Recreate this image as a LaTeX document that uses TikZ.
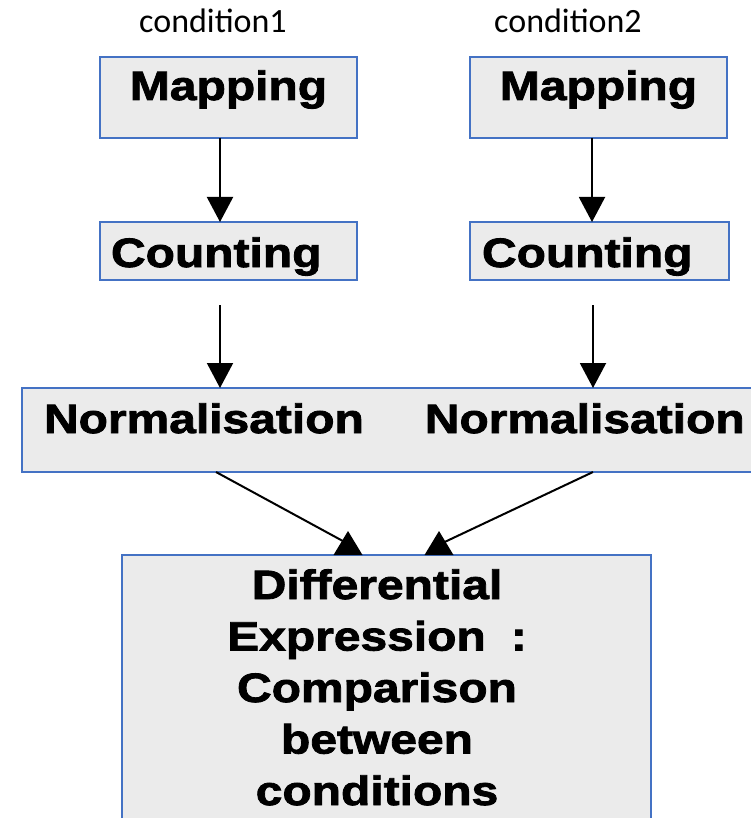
\documentclass[tikz,border=0pt]{standalone}
\usepackage{fontspec}
\setmainfont{Liberation Sans}[BoldFeatures={FakeStretch=1.17,FakeBold=2}]
\newfontfamily\condfont{Carlito}
\usetikzlibrary{arrows.meta,calc}
\definecolor{boxblue}{RGB}{68,114,196}
\definecolor{boxgray}{RGB}{235,235,235}
\newcommand{\rpad}{\rule{19pt}{0pt}}

\begin{document}
\begin{tikzpicture}[x=1pt,y=-1pt]
\tikzstyle{every node}=[inner sep=0pt, outer sep=0pt]
\tikzstyle{box}=[draw=boxblue, fill=boxgray, line width=1.5pt, anchor=north west, font=\fontsize{41}{51.5}\selectfont\bfseries]
\tikzstyle{cond}=[font=\condfont\fontsize{34}{40}\selectfont, anchor=base]
\tikzstyle{arr}=[line width=2pt, -{Triangle[width=26pt,length=25pt]}]
\useasboundingbox (0,0) rectangle (750,818);
% condition labels
\node (cond1) [cond] at (213,33) {condition1};
\node (cond2) [cond] at (568,33) {condition2};
% boxes
\node (map1) [box, minimum width=257pt, text height=43pt, text depth=38pt] at (100,57) {Mapping};
\node (map2) [box, minimum width=257pt, text height=43pt, text depth=38pt] at (470,57) {Mapping};
\node (cnt1) [box, text width=235pt, inner xsep=11pt, align=left, text height=45pt, text depth=13pt] at (100,222) {Counting};
\node (cnt2) [box, text width=235pt, inner xsep=12pt, align=left, text height=45pt, text depth=13pt] at (470,222) {Counting};
\node (norm) [box, text width=714pt, inner xsep=22pt, align=left, text height=45pt, text depth=39pt] at (22,388) {Normalisation\hspace{61pt}Normalisation};
\node (diff) [box, text width=529pt, align=center, text height=44pt, text depth=231pt] at (122,555) {Differential\rpad\\Expression\hspace{25pt}:\rpad\\Comparison\rpad\\between\rpad\\conditions\rpad};
% arrows
\draw[arr] ([xshift=-8.5pt]map1.south) -- ([xshift=-8.5pt]map1.south |- cnt1.north);
\draw[arr] ([xshift=-6.5pt]map2.south) -- ([xshift=-6.5pt]map2.south |- cnt2.north);
\draw[arr] ([xshift=-8.5pt,yshift=-25pt]cnt1.south) -- ([xshift=-8.5pt]cnt1.south |- norm.north);
\draw[arr] ([xshift=-6.5pt,yshift=-25pt]cnt2.south) -- ([xshift=-6.5pt]cnt2.south |- norm.north);
\coordinate (tip1) at ([xshift=-40pt,yshift=12pt]diff.north);
\coordinate (tip2) at ([xshift=56pt,yshift=12pt]diff.north);
\draw[line width=2pt] ($(norm.south -| cnt1.south)+(-12.5,0)$) -- (tip1);
\draw[line width=2pt] ($(norm.south -| cnt2.south)+(-6.5,0)$) -- (tip2);
\fill ([xshift=-38.5pt]diff.north) ++(-14.5,0) -- ++(29,0) -- ++(-14.5,-24) -- cycle;
\fill ([xshift=52.5pt]diff.north) ++(-14.5,0) -- ++(29,0) -- ++(-14.5,-24) -- cycle;
\end{tikzpicture}
\end{document}
